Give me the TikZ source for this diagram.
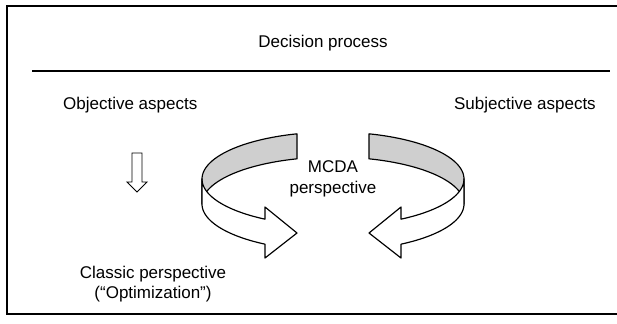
\documentclass[tikz,border=0pt]{standalone}
\usepackage{fontspec}
\setmainfont{Liberation Sans}
\begin{document}
\begin{tikzpicture}[x=0.03cm,y=-0.03cm,
        label/.style={inner sep=0pt, font=\fontsize{14.5}{17.5}\selectfont},
        band/.style={line width=1pt, line join=round, draw=black}]
        \useasboundingbox (0,0) rectangle (617,323);
        \draw[line width=1.4pt] (620,6) -- (7,6) -- (7,314) -- (620,314) ;
        \draw[line width=1.2pt] (32,71) -- (610,71) ;
        \node[label, anchor=base] (decision) at (323,47) {Decision process};
        \node[label, anchor=base west] (objective) at (63,109) {Objective aspects};
        \node[label, anchor=base east] (subjective) at (596,109) {Subjective aspects};
        \node[label, align=center] (mcda) at (333,179) {MCDA\\perspective};
        \node[label, align=center] (classic) at (153,284) {Classic perspective\\(``Optimization'')};
        % small arrow
        \draw[line width=0.8pt, line join=miter] (132,153) -- (142,153) -- (142,182) -- (147,182) -- (137,192) -- (127,182) -- (132,182) -- cycle ;
        % left ribbon
        \draw[band, fill=gray!38] (202,179) -- plot[domain=180:254.05, samples=30, smooth] ({333+131*cos(\x)},{179+47*sin(\x)}) -- (297,158.8) -- plot[domain=254.05:180, samples=30, smooth] ({333+131*cos(\x)},{204+47*sin(\x)}) -- cycle ;
        \draw[band, fill=white] (202,179) -- plot[domain=180:121.27, samples=30, smooth] ({333+131*cos(\x)},{179+47*sin(\x)}) -- (265,207) -- (297,233) -- (265,258) -- plot[domain=121.27:180, samples=30, smooth] ({333+131*cos(\x)},{204+47*sin(\x)}) -- cycle ;
        % right ribbon
        \draw[band, fill=gray!38] (464,179) -- plot[domain=180:254.05, samples=30, smooth] ({333-131*cos(\x)},{179+47*sin(\x)}) -- (369,158.8) -- plot[domain=254.05:180, samples=30, smooth] ({333-131*cos(\x)},{204+47*sin(\x)}) -- cycle ;
        \draw[band, fill=white] (464,179) -- plot[domain=180:121.27, samples=30, smooth] ({333-131*cos(\x)},{179+47*sin(\x)}) -- (401,207) -- (369,233) -- (401,258) -- plot[domain=121.27:180, samples=30, smooth] ({333-131*cos(\x)},{204+47*sin(\x)}) -- cycle ;
\end{tikzpicture}
\end{document}
